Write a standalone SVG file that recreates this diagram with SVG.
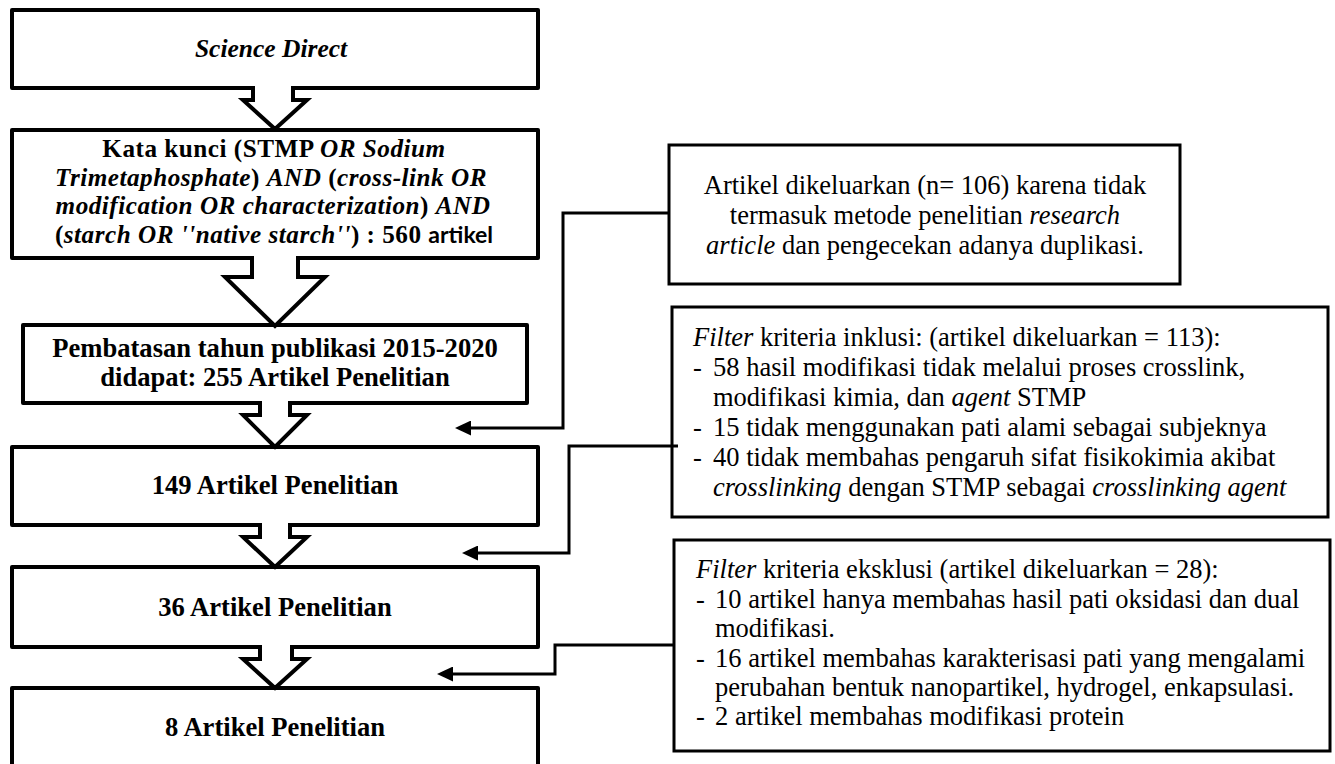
<svg xmlns="http://www.w3.org/2000/svg" width="1335" height="764" viewBox="0 0 1335 764">
<style>
.box{fill:#fff;stroke:#000;stroke-width:4;stroke-linejoin:round}
.rbox{fill:#fff;stroke:#000;stroke-width:3}
.blk{fill:#fff;stroke:#000;stroke-width:4;stroke-linejoin:miter}
.con{fill:none;stroke:#000;stroke-width:3}
.lt{font-family:'Liberation Serif','Times New Roman',Times,serif;font-weight:bold;font-size:26.6px;fill:#000;text-anchor:middle}
.kw{font-size:25.2px;letter-spacing:0.5px}
.rt{font-family:'Liberation Serif','Times New Roman',Times,serif;font-size:26.5px;fill:#000}
.i{font-style:italic}
.sans{font-family:Lato,'Liberation Sans',sans-serif;font-size:23px;letter-spacing:0}
</style>
<defs>
<marker id="ah" markerUnits="userSpaceOnUse" markerWidth="16" markerHeight="15" refX="6" refY="7.5" orient="auto">
<path d="M0,0 L16,7.5 L0,15 z" fill="#000"/>
</marker>
</defs>

<g id="n1">
<rect class="box" x="12" y="10" width="526" height="78"/>
<text class="lt i" x="271" y="57" style="font-size:25.5px">Science Direct</text>
</g>
<g id="n2">
<rect class="box" x="12" y="130" width="526" height="128"/>
<text class="lt kw" x="274" y="157">Kata kunci (STMP <tspan class="i">OR Sodium</tspan></text>
<text class="lt kw" x="271" y="185.5"><tspan class="i">Trimetaphosphate</tspan>) <tspan class="i">AND</tspan> (<tspan class="i">cross-link OR</tspan></text>
<text class="lt kw" x="273" y="214"><tspan class="i">modification OR characterization</tspan>) <tspan class="i">AND</tspan></text>
<text class="lt kw" x="274" y="242.5">(<tspan class="i">starch OR ''native starch''</tspan>) : 560 <tspan class="sans">artikel</tspan></text>
</g>
<g id="n3">
<rect class="box" x="23" y="325" width="504" height="78"/>
<text class="lt" x="275" y="357">Pembatasan tahun publikasi 2015-2020</text>
<text class="lt" x="275" y="386">didapat: 255 Artikel Penelitian</text>
</g>
<g id="n4">
<rect class="box" x="12" y="447" width="526" height="78"/>
<text class="lt" x="275" y="494">149 Artikel Penelitian</text>
</g>
<g id="n5">
<rect class="box" x="12" y="567" width="526" height="80"/>
<text class="lt" x="275" y="616">36 Artikel Penelitian</text>
</g>
<g id="n6">
<rect class="box" x="12" y="688" width="526" height="90"/>
<text class="lt" x="275" y="736">8 Artikel Penelitian</text>
</g>

<g id="nA">
<rect class="rbox" x="669" y="145" width="511" height="139"/>
<text class="rt" x="925" y="194" text-anchor="middle">Artikel dikeluarkan (n= 106) karena tidak</text>
<text class="rt" x="925" y="224" text-anchor="middle">termasuk metode penelitian <tspan class="i">research</tspan></text>
<text class="rt" x="925" y="254" text-anchor="middle"><tspan class="i">article</tspan> dan pengecekan adanya duplikasi.</text>
</g>
<g id="nB">
<rect class="rbox" x="672" y="307" width="656" height="210"/>
<text class="rt" x="693" y="346"><tspan class="i">Filter</tspan> kriteria inklusi: (artikel dikeluarkan = 113):</text>
<text class="rt" x="693" y="376">-</text>
<text class="rt" x="713" y="376">58 hasil modifikasi tidak melalui proses crosslink,</text>
<text class="rt" x="713" y="406">modifikasi kimia, dan <tspan class="i">agent</tspan> STMP</text>
<text class="rt" x="693" y="436">-</text>
<text class="rt" x="713" y="436">15 tidak menggunakan pati alami sebagai subjeknya</text>
<text class="rt" x="693" y="466">-</text>
<text class="rt" x="713" y="466">40 tidak membahas pengaruh sifat fisikokimia akibat</text>
<text class="rt" x="713" y="496"><tspan class="i">crosslinking</tspan> dengan STMP sebagai <tspan class="i">crosslinking agent</tspan></text>
</g>
<g id="nC">
<rect class="rbox" x="674" y="540" width="656" height="211"/>
<text class="rt" x="696" y="578"><tspan class="i">Filter</tspan> kriteria eksklusi (artikel dikeluarkan = 28):</text>
<text class="rt" x="696" y="608">-</text>
<text class="rt" x="715" y="608">10 artikel hanya membahas hasil pati oksidasi dan dual</text>
<text class="rt" x="715" y="637">modifikasi.</text>
<text class="rt" x="696" y="667">-</text>
<text class="rt" x="715" y="667">16 artikel membahas karakterisasi pati yang mengalami</text>
<text class="rt" x="715" y="696">perubahan bentuk nanopartikel, hydrogel, enkapsulasi.</text>
<text class="rt" x="696" y="725">-</text>
<text class="rt" x="715" y="725">2 artikel membahas modifikasi protein</text>
</g>

<g id="connectors">
<path class="blk" d="M253,86 V100 H243 L275,129 L307,100 H293 V86"/>
<path class="blk" d="M252,256 V277 H225 L275,326 L325,277 H298 V256"/>
<path class="blk" d="M260,401 V415 H243 L275,447 L307,415 H290 V401"/>
<path class="blk" d="M260,523 V537 H243 L275,567 L307,537 H290 V523"/>
<path class="blk" d="M260,645 V659 H243 L275,688 L307,659 H292 V645"/>
<path class="con" d="M669,213 H563 V428 H465" marker-end="url(#ah)"/>
<path class="con" d="M678,446 H569 V553 H472" marker-end="url(#ah)"/>
<path class="con" d="M674,645 H555 V674 H447" marker-end="url(#ah)"/>
</g>
</svg>
